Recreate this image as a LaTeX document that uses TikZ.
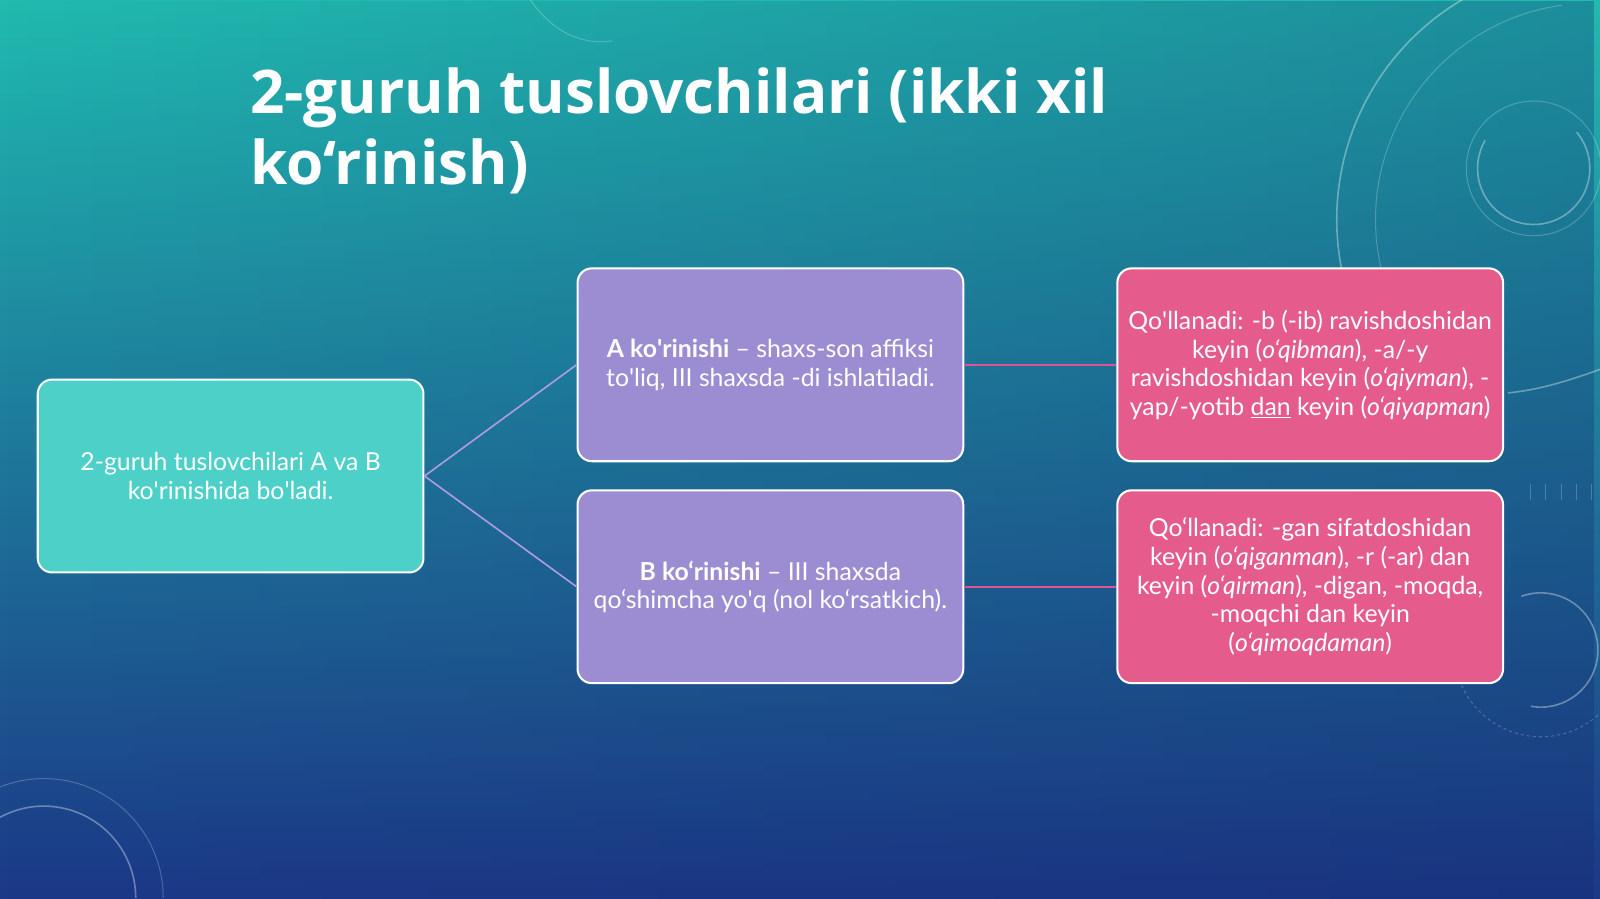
\documentclass[tikz,border=0pt]{standalone}
\usepackage{fontspec}
\usetikzlibrary{fadings}
\setmainfont{Lato}
\newfontfamily\titlefont{Open Sans}
\newcommand\ap{\textquotesingle}
\definecolor{bgtop}{RGB}{32,186,175}
\definecolor{bgmid}{RGB}{22,124,160}
\definecolor{bgbot}{RGB}{28,56,135}
\definecolor{bgdark}{RGB}{20,40,110}
\definecolor{tealfill}{RGB}{76,208,200}
\definecolor{purplefill}{RGB}{156,141,211}
\definecolor{pinkfill}{RGB}{229,92,140}
\definecolor{lavcol}{RGB}{175,155,225}
\definecolor{pinkcol}{RGB}{222,82,150}
\tikzfading[name=fadeR, left color=transparent!100, right color=transparent!70]
\begin{document}
\begin{tikzpicture}[x=1pt,y=-1pt,
  box/.style={rounded corners=14pt, draw=white, line width=2pt, minimum width=378pt, minimum height=189pt, align=center, text=white, font=\fontsize{24.3}{28}\selectfont, inner sep=0pt},
  tealbox/.style={box, fill=tealfill},
  purplebox/.style={box, fill=purplefill},
  pinkbox/.style={box, fill=pinkfill},
  lavline/.style={draw=lavcol, line width=1.6pt},
  pinkline/.style={draw=pinkcol, line width=1.6pt},
  deco/.style={draw=white, draw opacity=0.35, line width=1.6pt},
  decothin/.style={draw=white, draw opacity=0.22, line width=1pt}
]
\useasboundingbox (0,0) rectangle (1568,881);
% background
\shade[top color=bgtop, middle color=bgmid, bottom color=bgbot] (0,0) rectangle (1568,881);
\fill[bgdark, path fading=fadeR] (0,0) rectangle (1568,881);
% decorations top right
\draw[deco] (1560,215) ++(160:250) arc (160:265:250);
\draw[decothin] (1560,215) ++(155:212) arc (155:262:212);
\draw[deco] (1503,165) ++(210:55) arc (210:-40:55);
\draw[decothin] (1503,165) circle (66);
\draw[deco] (1478,385) .. controls (1510,382) and (1540,372) .. (1568,362);
% bottom left
\draw[deco] (43,880) ++(190:90) arc (190:360:90);
\draw[decothin] (43,880) ++(200:117) arc (200:360:117);
% bottom right
\draw[deco] (1510,637) ++(250:56) arc (250:460:56);
\draw[decothin, dashed] (1510,637) ++(160:85) arc (160:20:85);
% ticks
\foreach \xx in {1500,1515,1530,1545,1560}{\draw[decothin] (\xx,474) -- (\xx,490);}
% top center faint arc
\draw[decothin] (520,0) .. controls (540,30) and (570,45) .. (600,40);
% title
\node[anchor=north west, inner sep=0pt, align=left, text=white, font=\titlefont\bfseries\fontsize{59}{70}\selectfont] (title) at (245,66) {2-guruh tuslovchilari (ikki xil\\ko‘rinish)};
% boxes
\node[tealbox] (root) at (226,466.5) {2-guruh tuslovchilari A va B\\ko\ap rinishida bo\ap ladi.};
\node[purplebox] (a) at (755,357.5) {\textbf{A ko\ap rinishi} – shaxs-son affiksi\\to\ap liq, III shaxsda -di ishlatiladi.};
\node[purplebox] (b) at (755,575) {\textbf{B ko‘rinishi} – III shaxsda\\qo‘shimcha yo\ap q (nol ko‘rsatkich).};
\node[pinkbox] (pa) at (1284,357.5) {Qo\ap llanadi: -b (-ib) ravishdoshidan\\keyin (\textit{o‘qibman}), -a/-y\\ravishdoshidan keyin (\textit{o‘qiyman}), -\\yap/-yotib \underline{dan} keyin (\textit{o‘qiyapman})};
\node[pinkbox] (pb) at (1284,575) {Qo‘llanadi: -gan sifatdoshidan\\keyin (\textit{o‘qiganman}), -r (-ar) dan\\keyin (\textit{o‘qirman}), -digan, -moqda,\\-moqchi dan keyin\\(\textit{o‘qimoqdaman})};
% connectors
\draw[lavline] (root.east) -- (a.west);
\draw[lavline] (root.east) -- (b.west);
\draw[pinkline] (a.east) -- (pa.west);
\draw[pinkline] (b.east) -- (pb.west);
\end{tikzpicture}
\end{document}
